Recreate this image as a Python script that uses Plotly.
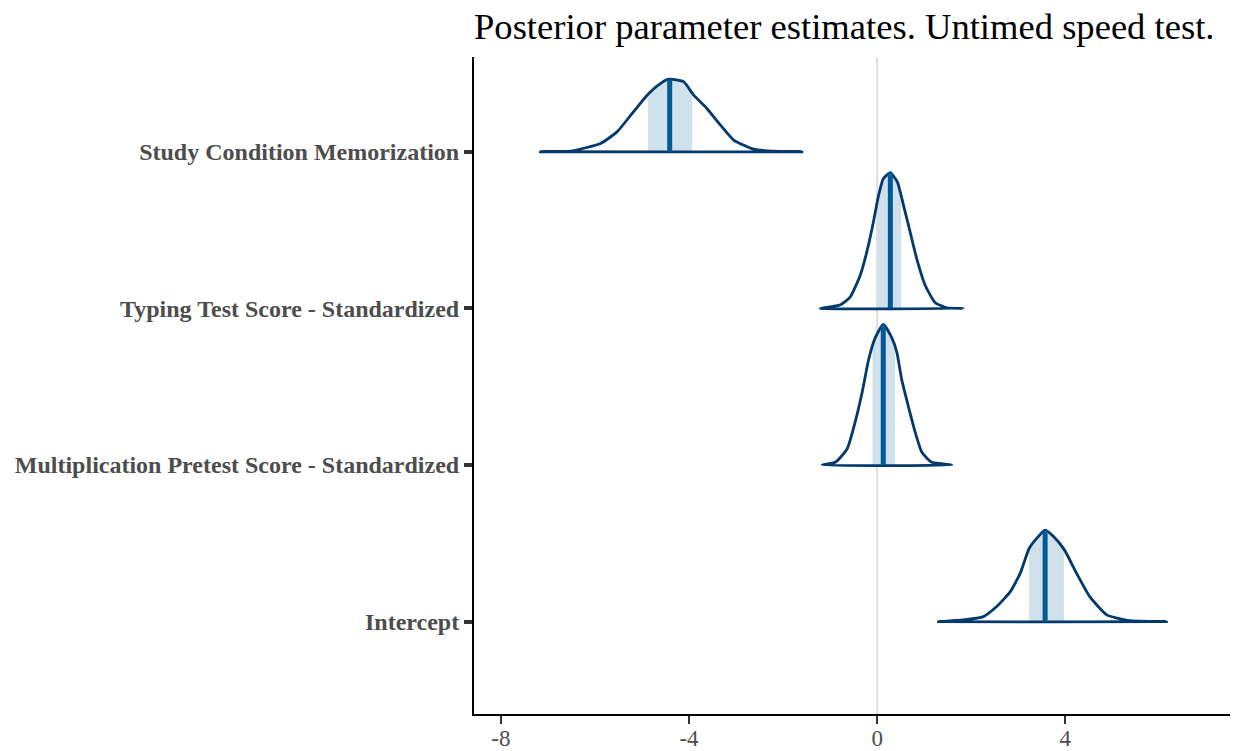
import numpy as np
import plotly.graph_objects as go

# ---------------- data ----------------
params = ["Intercept",
          "Multiplication Pretest Score - Standardized",
          "Typing Test Score - Standardized",
          "Study Condition Memorization"]

# density outline: x (parameter value) and height (in category-row units)
study_x = [-7.16, -6.52, -5.88, -5.53, -5.18, -4.89, -4.61, -4.43, -4.11, -3.90, -3.62, -3.33, -3.05, -2.63, -2.21, -1.60]
study_h = [0.0, 0.004, 0.053, 0.127, 0.255, 0.361, 0.435, 0.463, 0.446, 0.361, 0.276, 0.170, 0.075, 0.017, 0.004, 0.0]

typing_x = [-1.21, -0.79, -0.57, -0.36, -0.22, -0.08, 0.03, 0.13, 0.28, 0.43, 0.56, 0.70, 0.84, 1.02, 1.23, 1.48, 1.83]
typing_h = [0.0, 0.021, 0.074, 0.212, 0.361, 0.552, 0.722, 0.828, 0.866, 0.806, 0.658, 0.488, 0.318, 0.148, 0.038, 0.004, 0.0]

mult_x = [-1.17, -0.89, -0.64, -0.47, -0.32, -0.18, -0.04, 0.13, 0.31, 0.42, 0.52, 0.66, 0.81, 0.95, 1.16, 1.59]
mult_h = [0.0, 0.017, 0.102, 0.272, 0.463, 0.675, 0.813, 0.898, 0.813, 0.718, 0.548, 0.378, 0.208, 0.081, 0.017, 0.0]

inter_x = [1.30, 1.83, 2.26, 2.54, 2.83, 3.04, 3.23, 3.39, 3.57, 3.75, 3.98, 4.24, 4.52, 4.88, 5.37, 6.15]
inter_h = [0.0, 0.011, 0.032, 0.096, 0.191, 0.308, 0.467, 0.531, 0.584, 0.543, 0.458, 0.308, 0.159, 0.043, 0.006, 0.0]

# 50% interval and median
int_lo = [3.23, -0.10, 0.00, -4.87]
int_hi = [3.97, 0.38, 0.51, -3.93]
medians = [3.57, 0.13, 0.28, -4.41]

x_ticks = [-8, -4, 0, 4]
title_text = "Posterior parameter estimates. Untimed speed test."

curves = [(inter_x, inter_h), (mult_x, mult_h), (typing_x, typing_h), (study_x, study_h)]

# ---------------- styling ----------------
LIGHT = "#d1e1ec"
DARK = "#03396c"
MIDH = "#005b96"
SERIF = "Liberation Serif"

fig = go.Figure()

# zero reference line
fig.add_shape(type="line", xref="x", yref="paper", x0=0, x1=0, y0=0, y1=1,
              line=dict(color="#e0e0e0", width=2.2), layer="below")

for i, (cx, ch) in enumerate(curves):
    base = i + 1
    cx = np.array(cx, dtype=float)
    ch = np.array(ch, dtype=float)
    lo, hi = int_lo[i], int_hi[i]
    # interval shading polygon following the outline
    inner = (cx > lo) & (cx < hi)
    sx = np.concatenate([[lo], cx[inner], [hi]])
    sh = np.concatenate([[np.interp(lo, cx, ch)], ch[inner], [np.interp(hi, cx, ch)]])
    px = np.concatenate([[lo], sx, [hi]])
    py = np.concatenate([[base], base + sh, [base]])
    fig.add_trace(go.Scatter(x=px, y=py, mode="lines", fill="toself",
                             fillcolor=LIGHT, line=dict(width=0, color=LIGHT),
                             hoverinfo="skip", showlegend=False))
    # outline (curve + baseline)
    ox = np.concatenate([cx, [cx[0]]])
    oy = np.concatenate([base + ch, [base]])
    fig.add_trace(go.Scatter(x=ox, y=oy, mode="lines",
                             line=dict(color=DARK, width=2.8, shape="spline", smoothing=0.5),
                             hoverinfo="skip", showlegend=False))
    # median segment
    m = medians[i]
    fig.add_trace(go.Scatter(x=[m, m], y=[base, base + np.interp(m, cx, ch)], mode="lines",
                             line=dict(color=MIDH, width=5),
                             hoverinfo="skip", showlegend=False))

fig.update_layout(
    width=1235, height=751,
    margin=dict(l=474, r=5, t=57, b=37),
    paper_bgcolor="white", plot_bgcolor="white",
    title=dict(text=title_text, x=474 / 1235, xanchor="left", y=1 - 39 / 751, yanchor="bottom",
               yref="container",
               font=dict(family=SERIF, size=36.6, color="black")),
    showlegend=False,
)

fig.update_xaxes(range=[-8.57, 7.5], tickvals=x_ticks, ticktext=[str(v) for v in x_ticks],
                 automargin=False, ticklabelstandoff=-6,
                 showgrid=False, zeroline=False, showline=True, linecolor="black", linewidth=2,
                 ticks="outside", ticklen=8, tickwidth=1.5, tickcolor="#333333",
                 tickfont=dict(family=SERIF, size=23, color="#4d4d4d"))
fig.update_yaxes(range=[0.41, 4.605], tickvals=[1, 2, 3, 4],
                 ticktext=["<b>%s</b>" % p for p in params],
                 automargin=False,
                 showgrid=False, zeroline=False, showline=True, linecolor="black", linewidth=2,
                 ticks="outside", ticklen=8, tickwidth=3.5, tickcolor="#333333",
                 tickfont=dict(family=SERIF, size=24, color="#4d4d4d"))

fig.write_html("out.html")
